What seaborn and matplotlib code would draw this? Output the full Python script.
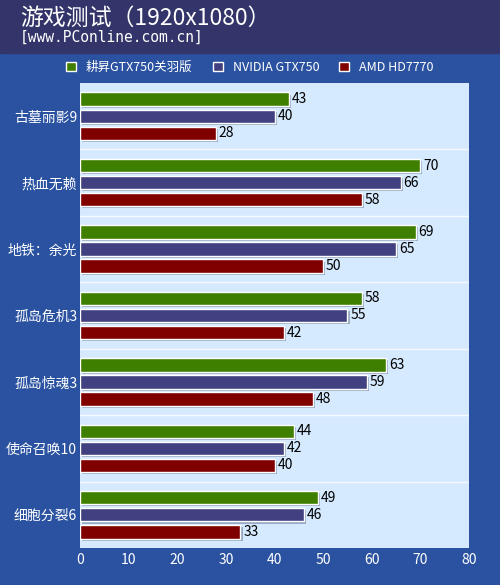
import matplotlib
matplotlib.use("Agg")
import matplotlib.pyplot as plt
import matplotlib.patheffects as pe
import pandas as pd
import seaborn as sns

games = ['古墓丽影9', '热血无赖', '地铁：余光', '孤岛危机3', '孤岛惊魂3', '使命召唤10', '细胞分裂6']
cards = ['耕昇GTX750关羽版', 'NVIDIA GTX750', 'AMD HD7770']
gtx750_gy = [43, 70, 69, 58, 63, 44, 49]
gtx750 = [40, 66, 65, 55, 59, 42, 46]
hd7770 = [28, 58, 50, 42, 48, 40, 33]
xticks = [0, 10, 20, 30, 40, 50, 60, 70, 80]

colors = ['#3f7f00', '#414080', '#800000']
header_color = '#33356a'
body_color = '#2a52a0'
plot_bg = '#d6eaff'

df = pd.DataFrame({
    'game': games * 3,
    'card': [cards[0]] * 7 + [cards[1]] * 7 + [cards[2]] * 7,
    'fps': gtx750_gy + gtx750 + hd7770,
})

sns.set_theme(style='white')
plt.rcParams['font.family'] = ['Noto Sans CJK SC', 'DejaVu Sans']

fig = plt.figure(figsize=(5, 5.85), dpi=100, facecolor=body_color)
# dark header strip
fig.patches.append(plt.Rectangle((0, 1 - 53 / 585), 1, 53 / 585,
                                 transform=fig.transFigure, color=header_color, zorder=0))
fig.text(0.04, 0.968, '游戏测试（1920x1080）', color='white', fontsize=16.5,
         va='center', ha='left')
fig.text(0.04, 0.936, '[www.PConline.com.cn]', color='white', fontsize=10.5,
         va='center', ha='left', family=['DejaVu Sans Mono'])

ax = fig.add_axes([0.16, 0.0632, 0.778, 0.795])
ax.set_facecolor(plot_bg)
sns.barplot(data=df, y='game', x='fps', hue='card', palette=colors, orient='h',
            width=0.77, gap=0.22, saturation=1, ax=ax, edgecolor='white', linewidth=1)

shadow = [pe.SimplePatchShadow(offset=(1.5, -1.5), shadow_rgbFace='#8090a8', alpha=0.7),
          pe.Normal()]
for cont in ax.containers:
    for bar in cont:
        bar.set_path_effects(shadow)
    ax.bar_label(cont, padding=2, fontsize=10, color='black')

for i in range(len(games) - 1):
    ax.axhline(i + 0.5, color='white', lw=1, alpha=0.8)

ax.set_xlim(0, 80)
ax.set_ylim(len(games) - 0.5, -0.5)
ax.set_xticks(xticks)
ax.tick_params(axis='both', length=0, colors='white', labelsize=10)
ax.tick_params(axis='y', pad=2)
ax.set_xlabel('')
ax.set_ylabel('')
for s in ax.spines.values():
    s.set_visible(False)

handles, labels = ax.get_legend_handles_labels()
ax.get_legend().remove()
leg = fig.legend(handles, labels, loc='center', bbox_to_anchor=(0.5, 0.885), ncol=3,
                 frameon=False, fontsize=9, handlelength=0.8, handleheight=0.8,
                 columnspacing=1.6, handletextpad=0.8)
for t in leg.get_texts():
    t.set_color('white')
for h in leg.legend_handles:
    h.set_edgecolor('white')
    h.set_path_effects([])

fig.savefig('out.png', dpi=100, facecolor=fig.get_facecolor())
